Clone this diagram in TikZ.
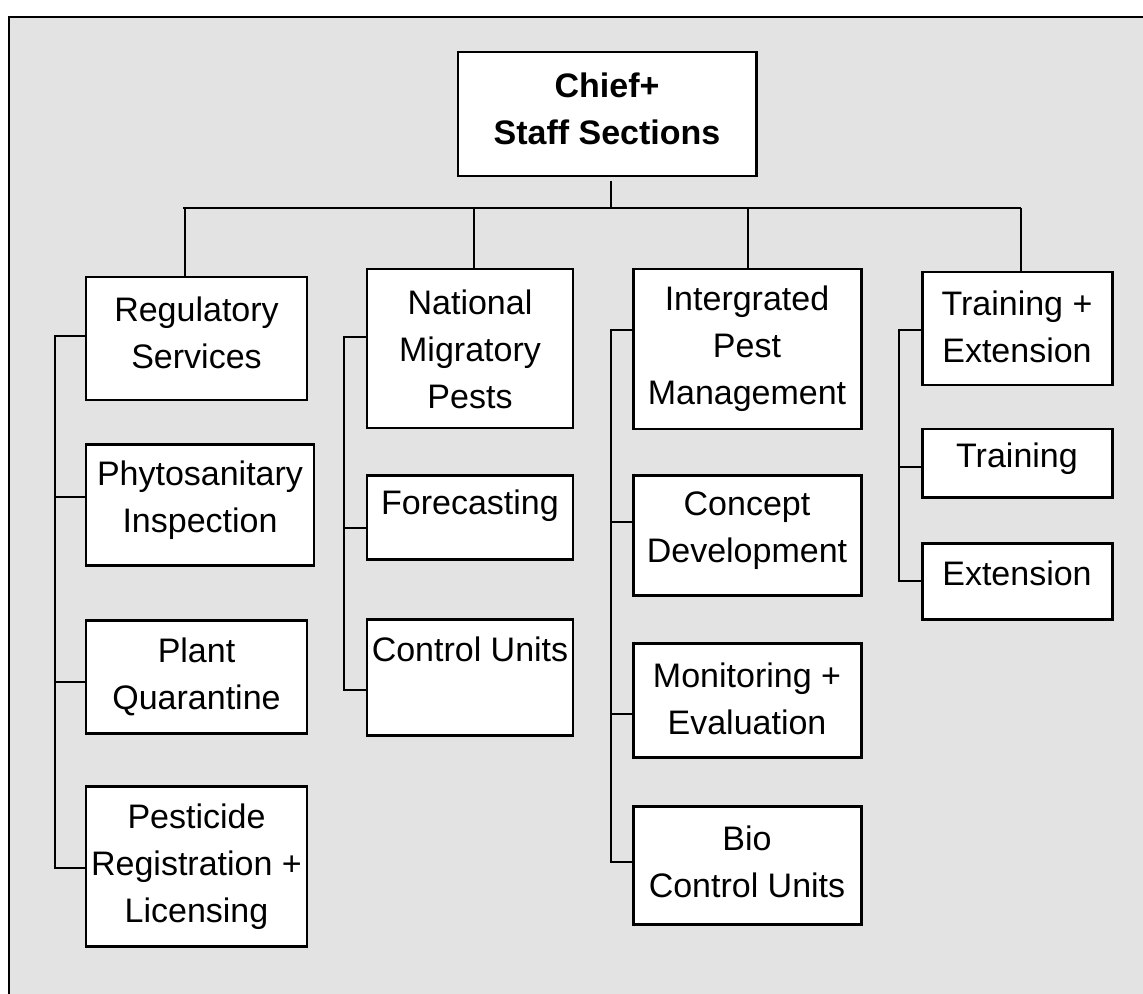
\documentclass[tikz,border=0pt]{standalone}
\usepackage{fontspec}
\setmainfont{Liberation Sans}
\usetikzlibrary{fit,calc}
\definecolor{bggray}{RGB}{227,227,227}
\begin{document}
\begin{tikzpicture}[x=0.02cm,y=-0.02cm,
  box/.style={draw=black,line width=1.7pt,fill=white,inner sep=0pt},
  lbl/.style={align=center,inner sep=0pt,font=\fontsize{19.35pt}{26.8pt}\selectfont},
  conn/.style={draw=black,line width=1.5pt}]
\useasboundingbox (0,0) rectangle (1143,994);
\clip (0,0) rectangle (1143,994);
\fill[bggray] (9,17) rectangle (1160,1010);
\draw[line width=1.6pt] (9,1010) -- (9,17) -- (1160,17);

% boxes
\node[box,fit={(458,52) (756,176)}] (chief) {};
\node[box,fit={(86,277) (307,400)}] (reg) {};
\node[box,fit={(86,444) (314,565)}] (phyto) {};
\node[box,fit={(86,620) (307,733)}] (plant) {};
\node[box,fit={(86,786) (307,946)}] (pest) {};
\node[box,fit={(367,269) (573,428)}] (nmp) {};
\node[box,fit={(367,475) (573,559)}] (fore) {};
\node[box,fit={(367,619) (573,735)}] (ctrl) {};
\node[box,fit={(633,269) (861,429)}] (ipm) {};
\node[box,fit={(633,475) (861,595)}] (concept) {};
\node[box,fit={(633,643) (861,757)}] (monitor) {};
\node[box,fit={(633,806) (861,924)}] (bio) {};
\node[box,fit={(922,272) (1112,385)}] (te) {};
\node[box,fit={(922,429) (1112,497)}] (train) {};
\node[box,fit={(922,543) (1112,619)}] (ext) {};

% labels
\node[lbl,font=\fontsize{19.35pt}{26.8pt}\selectfont\bfseries] (chief-t) at (607,109) {Chief+\\Staff Sections};
\node[lbl] (reg-t) at (196.5,333) {Regulatory\\Services};
\node[lbl] (phyto-t) at (200,500) {Phytosanitary\\Inspection};
\node[lbl] (plant-t) at (196.5,677) {Plant\\Quarantine};
\node[lbl] (pest-t) at (196.5,867) {Pesticide\\Registration +\\Licensing};
\node[lbl] (nmp-t) at (470,349) {National\\Migratory\\Pests};
\node[lbl] (fore-t) at (470,506) {Forecasting};
\node[lbl] (ctrl-t) at (470,649) {Control Units};
\node[lbl] (ipm-t) at (747,349) {Intergrated\\Pest\\Management};
\node[lbl] (concept-t) at (747,531) {Concept\\Development};
\node[lbl] (monitor-t) at (747,699) {Monitoring +\\Evaluation};
\node[lbl] (bio-t) at (747,862) {Bio\\Control Units};
\node[lbl] (te-t) at (1017,327) {Training +\\Extension};
\node[lbl] (train-t) at (1017,459) {Training};
\node[lbl] (ext-t) at (1017,573) {Extension};

% top bus
\coordinate (busL) at (183,208);
\coordinate (busR) at (1021,208);
\coordinate (chiefstub) at (611,208);
\draw[conn] ($(chiefstub |- chief.south)+(0,4)$) -- (chiefstub);
\draw[conn] (busL) -- (busR);
\coordinate (s1) at (185,208);
\coordinate (s2) at (474,208);
\coordinate (s3) at (748,208);
\coordinate (s4) at (1021,208);
\draw[conn] (s1) -- (s1 |- reg.north);
\draw[conn] (s2) -- (s2 |- nmp.north);
\draw[conn] (s3) -- (s3 |- ipm.north);
\draw[conn] (s4) -- (s4 |- te.north);

% attach points
\coordinate (reg-c) at ($(reg.west)+(0,-2.5)$);
\coordinate (phyto-c) at ($(phyto.west)+(0,-7.5)$);
\coordinate (plant-c) at ($(plant.west)+(0,5.5)$);
\coordinate (pest-c) at ($(pest.west)+(0,2)$);
\coordinate (nmp-c) at ($(nmp.west)+(0,-11.5)$);
\coordinate (fore-c) at ($(fore.west)+(0,11)$);
\coordinate (ctrl-c) at ($(ctrl.west)+(0,13)$);
\coordinate (ipm-c) at ($(ipm.west)+(0,-19)$);
\coordinate (concept-c) at ($(concept.west)+(0,-13)$);
\coordinate (monitor-c) at ($(monitor.west)+(0,14)$);
\coordinate (bio-c) at ($(bio.west)+(0,-3)$);
\coordinate (te-c) at ($(te.west)+(0,1.5)$);
\coordinate (train-c) at ($(train.west)+(0,4)$);
\coordinate (ext-c) at (ext.west);

% brackets
\coordinate (b1) at (55,0);
\coordinate (b2) at (344,0);
\coordinate (b3) at (611,0);
\coordinate (b4) at (899,0);
\draw[conn] (reg-c) -- (b1 |- reg-c) -- (b1 |- pest-c) -- (pest-c);
\draw[conn] (b1 |- phyto-c) -- (phyto-c);
\draw[conn] (b1 |- plant-c) -- (plant-c);
\draw[conn] (nmp-c) -- (b2 |- nmp-c) -- (b2 |- ctrl-c) -- (ctrl-c);
\draw[conn] (b2 |- fore-c) -- (fore-c);
\draw[conn] (ipm-c) -- (b3 |- ipm-c) -- (b3 |- bio-c) -- (bio-c);
\draw[conn] (b3 |- concept-c) -- (concept-c);
\draw[conn] (b3 |- monitor-c) -- (monitor-c);
\draw[conn] (te-c) -- (b4 |- te-c) -- (b4 |- ext-c) -- (ext-c);
\draw[conn] (b4 |- train-c) -- (train-c);
\end{tikzpicture}
\end{document}
